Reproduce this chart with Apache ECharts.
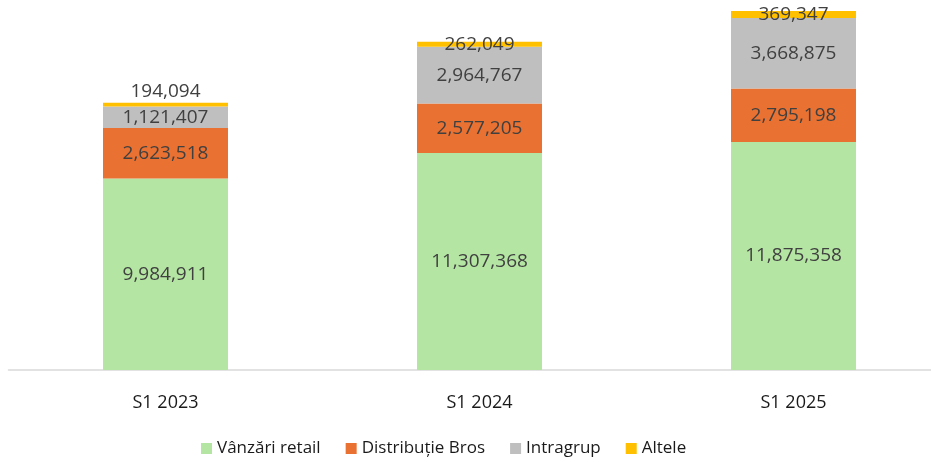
<!DOCTYPE html>
<html>
<head>
<meta charset="utf-8">
<script src="https://cdn.jsdelivr.net/npm/echarts@6/dist/echarts.min.js"></script>
<style>html,body{margin:0;padding:0;background:#fff}#c{width:931px;height:462px}</style>
</head>
<body>
<div id="c"></div>
<script>
const categories = ['S1 2023', 'S1 2024', 'S1 2025'];
const retail = [9984911, 11307368, 11875358];
const distributie = [2623518, 2577205, 2795198];
const intragrup = [1121407, 2964767, 3668875];
const altele = [194094, 262049, 369347];
const seriesNames = ['Vânzări retail', 'Distribuție Bros', 'Intragrup', 'Altele'];
const colors = ['#B5E5A3', '#E97132', '#BFBFBF', '#FFC000'];

const FONT = 'Open Sans';
const fmt = v => Number(v).toLocaleString('en-US');
const labelBase = {
  show: true, position: 'inside', color: '#404040',
  fontFamily: FONT, fontSize: 19, formatter: p => fmt(p.value)
};
function mk(name, data, color, extra) {
  return Object.assign({
    name, type: 'bar', stack: 'total', barWidth: 125,
    itemStyle: { color }, label: labelBase, data
  }, extra || {});
}
const alteleData = altele.map((v, i) => i === 0
  ? { value: v, label: { position: 'top', distance: 2 } }
  : { value: v });

const chart = echarts.init(document.getElementById('c'), null, { renderer: 'canvas' });
chart.setOption({
  animation: false,
  grid: { left: 8.5, right: -19.5, top: 5.4, bottom: 92, containLabel: false, outerBoundsMode: 'none' },
  legend: {
    bottom: 0, left: 196, itemWidth: 11, itemHeight: 11, itemGap: 25,
    icon: 'rect',
    textStyle: { fontFamily: FONT, fontSize: 17, color: '#1a1a1a', padding: [0, 0, 0, 0] },
    data: seriesNames
  },
  xAxis: {
    type: 'category', data: categories,
    axisLine: { lineStyle: { color: '#D9D9D9', width: 1.5 } },
    axisTick: { show: false },
    axisLabel: { fontFamily: FONT, fontSize: 18, color: '#1a1a1a', margin: 24 }
  },
  yAxis: {
    type: 'value', min: 0, max: 19000000, show: false,
    splitLine: { show: false }
  },
  series: [
    mk(seriesNames[0], retail, colors[0]),
    mk(seriesNames[1], distributie, colors[1]),
    mk(seriesNames[2], intragrup, colors[2]),
    mk(seriesNames[3], alteleData, colors[3])
  ]
});
</script>
</body>
</html>
